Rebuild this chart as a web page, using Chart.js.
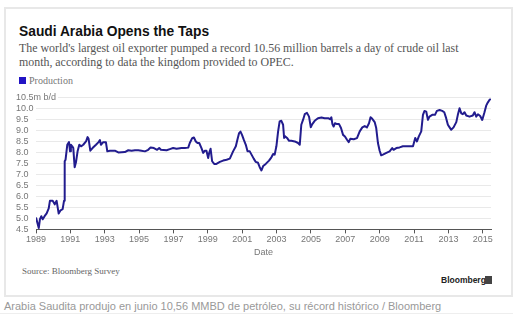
<!DOCTYPE html>
<html>
<head>
<meta charset="utf-8">
<script src="https://cdn.jsdelivr.net/npm/chart.js@4.4.1/dist/chart.umd.min.js"></script>
<style>
  html, body { margin: 0; padding: 0; background: #fff; }
  body { width: 520px; height: 324px; position: relative; overflow: hidden; }
  #panel { position: absolute; left: 4px; top: 7px; width: 509px; height: 290px; border: 2px solid #e8e8e8; box-sizing: border-box; background: #fff; }
  .t { position: absolute; white-space: nowrap; }
  #title { left: 19px; top: 23px; font: bold 13.8px "Liberation Sans", Arial, sans-serif; line-height: 17px; color: #111; }
  #sub { left: 19px; top: 41px; font: 11.9px "Liberation Serif", serif; line-height: 14px; color: #555; }
  #legbox { position: absolute; left: 19px; top: 77px; width: 7px; height: 7px; background: #2214c4; }
  #legtxt { left: 29px; top: 74px; font: 10px "Liberation Serif", serif; line-height: 13px; color: #777; }
  #source { left: 22px; top: 265px; font: 9px "Liberation Serif", serif; line-height: 12px; color: #666; }
  #bbg { left: 441px; top: 275px; font: bold 8.5px "Liberation Sans", Arial, sans-serif; line-height: 10px; color: #222; }
  #bbgicon { position: absolute; left: 485px; top: 276px; width: 7px; height: 8px; background: #444; }
  #caption { left: 4px; top: 300px; font: 11px "Liberation Sans", Arial, sans-serif; line-height: 13px; color: #999; }
  #rule { position: absolute; left: 0; top: 313px; width: 513px; height: 1px; background: #eee; }
  #wrap { position: absolute; left: 0; top: 88px; width: 520px; height: 172px; }
</style>
</head>
<body>
<div id="panel"></div>
<div class="t" id="title">Saudi Arabia Opens the Taps</div>
<div class="t" id="sub">The world's largest oil exporter pumped a record 10.56 million barrels a day of crude oil last<br>month, according to data the kingdom provided to OPEC.</div>
<div id="legbox"></div>
<div class="t" id="legtxt">Production</div>
<div id="wrap"><canvas id="c" width="520" height="172"></canvas></div>
<div class="t" id="source">Source: Bloomberg Survey</div>
<div class="t" id="bbg">Bloomberg</div>
<div id="bbgicon"></div>
<div class="t" id="caption">Arabia Saudita produjo en junio 10,56 MMBD de petróleo, su récord histórico / Bloomberg</div>
<div id="rule"></div>
<script>
// Dates as decimal years
const dates = [
  1989.00, 1989.16, 1989.23, 1989.31, 1989.39, 1989.50, 1989.62, 1989.74, 1989.81, 1989.97,
  1990.09, 1990.20, 1990.32, 1990.43, 1990.55, 1990.63, 1990.67, 1990.72, 1990.82, 1990.92,
  1990.98, 1991.03, 1991.11, 1991.17, 1991.25, 1991.33, 1991.42, 1991.52, 1991.62, 1991.75,
  1991.91, 1992.00, 1992.06, 1992.16, 1992.29, 1992.49, 1992.64, 1992.72, 1992.78, 1992.91,
  1993.07, 1993.15, 1993.30, 1993.59, 1993.79, 1994.17, 1994.37, 1994.56, 1994.76, 1994.95,
  1995.14, 1995.34, 1995.53, 1995.67, 1995.86, 1996.05, 1996.17, 1996.27, 1996.60, 1996.79,
  1996.98, 1997.18, 1997.47, 1997.66, 1997.86, 1997.95, 1998.09, 1998.19, 1998.30, 1998.40,
  1998.50, 1998.63, 1998.73, 1998.83, 1998.92, 1999.02, 1999.08, 1999.16, 1999.25, 1999.37,
  1999.50, 1999.70, 1999.89, 2000.09, 2000.28, 2000.47, 2000.63, 2000.72, 2000.82, 2000.90,
  2000.99, 2001.09, 2001.21, 2001.31, 2001.44, 2001.67, 2001.79, 2001.92, 2002.02, 2002.12,
  2002.22, 2002.37, 2002.56, 2002.70, 2002.80, 2002.89, 2002.99, 2003.09, 2003.18, 2003.28,
  2003.38, 2003.44, 2003.51, 2003.61, 2003.73, 2003.86, 2004.06, 2004.25, 2004.35, 2004.44,
  2004.54, 2004.64, 2004.77, 2004.89, 2004.99, 2005.08, 2005.22, 2005.41, 2005.61, 2005.80,
  2006.00, 2006.13, 2006.19, 2006.25, 2006.32, 2006.40, 2006.52, 2006.63, 2006.75, 2006.87,
  2006.98, 2007.10, 2007.20, 2007.29, 2007.49, 2007.68, 2007.84, 2007.99, 2008.13, 2008.26,
  2008.38, 2008.47, 2008.57, 2008.71, 2008.80, 2008.90, 2009.00, 2009.09, 2009.19, 2009.39,
  2009.58, 2009.73, 2009.81, 2009.97, 2010.16, 2010.35, 2010.55, 2010.74, 2010.94, 2011.07,
  2011.17, 2011.28, 2011.42, 2011.52, 2011.61, 2011.71, 2011.81, 2011.90, 2012.06, 2012.22,
  2012.33, 2012.49, 2012.64, 2012.76, 2012.87, 2012.97, 2013.07, 2013.16, 2013.30, 2013.46,
  2013.55, 2013.65, 2013.75, 2013.84, 2013.94, 2014.04, 2014.23, 2014.42, 2014.52, 2014.62,
  2014.72, 2014.85, 2014.97, 2015.10, 2015.20, 2015.30, 2015.39, 2015.47
];
// Production, million barrels per day
const production = [
  5.04, 4.56, 4.97, 5.10, 4.96, 5.10, 5.23, 5.46, 5.80, 5.80,
  5.64, 5.80, 5.22, 5.37, 5.42, 5.80, 7.60, 7.67, 8.35, 8.47,
  8.05, 8.35, 8.28, 8.20, 7.33, 7.57, 8.05, 8.35, 8.28, 8.35,
  8.50, 8.70, 8.62, 8.08, 8.20, 8.35, 8.47, 8.56, 8.35, 8.47,
  8.46, 8.05, 8.08, 8.08, 8.00, 8.02, 8.10, 8.08, 8.10, 8.10,
  8.08, 8.05, 8.12, 8.23, 8.20, 8.12, 8.20, 8.12, 8.10, 8.15,
  8.20, 8.17, 8.20, 8.20, 8.22, 8.43, 8.65, 8.68, 8.50, 8.43,
  8.43, 8.20, 7.98, 8.08, 8.08, 7.75, 7.98, 8.17, 7.60, 7.48,
  7.48, 7.57, 7.63, 7.67, 7.72, 8.05, 8.28, 8.58, 8.88, 8.95,
  8.80, 8.58, 8.35, 8.05, 8.05, 7.72, 7.57, 7.53, 7.33, 7.18,
  7.38, 7.48, 7.63, 7.78, 7.93, 7.90, 8.28, 8.96, 9.41, 9.44,
  9.26, 8.66, 8.73, 8.66, 8.53, 8.53, 8.50, 8.43, 8.35, 9.26,
  9.48, 9.74, 9.80, 9.63, 9.15, 9.29, 9.44, 9.56, 9.59, 9.56,
  9.56, 9.51, 9.60, 9.29, 9.18, 9.33, 9.29, 9.30, 9.11, 8.80,
  8.73, 8.58, 8.47, 8.62, 8.60, 8.65, 8.96, 9.14, 9.20, 9.14,
  9.33, 9.60, 9.53, 9.38, 9.11, 8.43, 8.08, 7.87, 7.90, 7.98,
  8.05, 8.20, 8.12, 8.20, 8.23, 8.28, 8.28, 8.28, 8.28, 8.66,
  8.50, 8.73, 8.96, 9.71, 9.89, 9.86, 9.48, 9.63, 9.71, 9.71,
  9.89, 9.93, 9.89, 9.83, 9.56, 9.26, 9.14, 9.03, 9.14, 9.38,
  9.71, 10.01, 9.78, 9.74, 9.83, 9.68, 9.63, 9.68, 9.83, 9.63,
  9.74, 9.66, 9.48, 9.83, 10.13, 10.28, 10.39, 10.43
];
const xTickYears = [1989, 1991, 1993, 1995, 1997, 1999, 2001, 2003, 2005, 2007, 2009, 2011, 2013, 2015];
const xTickLabels = ['1989', '1991', '1993', '1995', '1997', '1999', '2001', '2003', '2005', '2007', '2009', '2011', '2013', '2015'];
const yTickValues = [4.5, 5.0, 5.5, 6.0, 6.5, 7.0, 7.5, 8.0, 8.5, 9.0, 9.5, 10.0, 10.5];
const yTickLabels = ['4.5', '5.0', '5.5', '6.0', '6.5', '7.0', '7.5', '8.0', '8.5', '9.0', '9.5', '10.0', '10.5m b/d'];
const seriesName = 'Production';
const xAxisTitle = 'Date';

const tickFont = { family: '"Liberation Sans", Arial, sans-serif', size: 9 };

new Chart(document.getElementById('c'), {
  type: 'line',
  data: {
    datasets: [{
      label: seriesName,
      data: dates.map((d, i) => ({ x: d, y: production[i] })),
      borderColor: '#221c8e',
      borderWidth: 2,
      pointRadius: 0,
      tension: 0,
      fill: false,
      borderJoinStyle: 'round'
    }]
  },
  options: {
    responsive: false,
    animation: false,
    devicePixelRatio: 1,
    layout: { padding: { left: 16, right: 29, top: 9.5, bottom: 2 } },
    plugins: { legend: { display: false }, tooltip: { enabled: false } },
    scales: {
      x: {
        type: 'linear',
        min: 1989,
        max: 2015.48,
        afterBuildTicks: s => { s.ticks = xTickYears.map(v => ({ value: v })); },
        ticks: {
          callback: (v, i) => xTickLabels[i],
          color: '#777', font: tickFont, padding: 1, maxRotation: 0, autoSkip: false
        },
        grid: { drawOnChartArea: false, drawTicks: true, tickLength: 4, tickColor: '#555' },
        border: { display: true, color: '#555', width: 1 },
        title: { display: true, text: xAxisTitle, color: '#777', font: tickFont, padding: { top: 1, bottom: 0 } }
      },
      y: {
        min: 4.5,
        max: 10.5,
        afterBuildTicks: s => { s.ticks = yTickValues.map(v => ({ value: v })); },
        afterFit: s => { s.width = 20; },
        ticks: {
          callback: (v, i) => yTickLabels[i],
          autoSkip: false,
          mirror: true,
          crossAlign: 'near',
          padding: -20,
          color: '#777', font: tickFont,
          showLabelBackdrop: true, backdropColor: '#fff',
          backdropPadding: { left: 0, right: 2, top: 0, bottom: 0 }
        },
        grid: { color: '#e9e9e9', drawTicks: false, tickLength: 0 },
        border: { display: false }
      }
    }
  }
});
</script>
</body>
</html>
